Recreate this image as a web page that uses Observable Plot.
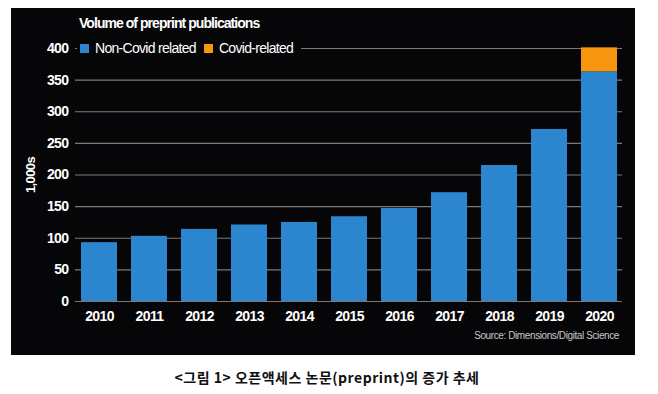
<!DOCTYPE html>
<html><head><meta charset="utf-8">
<script src="https://cdn.jsdelivr.net/npm/d3@7"></script>
<script src="https://cdn.jsdelivr.net/npm/@observablehq/plot@0.6"></script>
<style>
  html,body{margin:0;padding:0;background:#fff;}
  #page{position:relative;width:658px;height:394px;background:#fff;overflow:hidden;}
  #box{position:absolute;left:11px;top:8px;width:624px;height:347px;background:#060608;}
  #box svg{position:absolute;left:0;top:0;}
  #box svg text{letter-spacing:-0.6px;}
  .narrow{font-family:"Liberation Sans",sans-serif;}
  #title{position:absolute;left:68px;top:7px;color:#fff;font-weight:bold;font-size:14px;letter-spacing:-0.95px;}
  #legend{position:absolute;left:66px;top:32px;height:16px;padding:0 6px 0 3px;background:#060608;color:#fff;font-size:14px;letter-spacing:-0.7px;display:flex;align-items:center;gap:6px;}
  .sw{display:inline-block;width:9px;height:9px;}
  #source{position:absolute;right:16px;top:322px;color:#c8c8c8;font-size:10px;letter-spacing:-0.4px;}
  #caption{position:absolute;left:0;width:654px;top:367px;text-align:center;font-family:"Noto Sans CJK KR",sans-serif;font-weight:bold;font-size:14px;letter-spacing:0.5px;color:#111;}
</style></head>
<body>
<div id="page">
  <div id="box"></div>
  <div id="caption"></div>
</div>
<script>
const years = ["2010","2011","2012","2013","2014","2015","2016","2017","2018","2019","2020"];
const nonCovid = [93, 103, 114, 121, 125, 134, 147, 172, 215, 272, 363];
const covid = [0, 0, 0, 0, 0, 0, 0, 0, 0, 0, 38];
const yTicks = [0, 50, 100, 150, 200, 250, 300, 350, 400];
const seriesNames = ["Non-Covid related", "Covid-related"];
const seriesColors = ["#2b86cf", "#f7960e"];
const titleText = "Volume of preprint publications";
const yLabel = "1,000s";
const sourceText = "Source: Dimensions/Digital Science";
const captionText = "<그림 1> 오픈액세스 논문(preprint)의 증가 추세";

const rows = [];
years.forEach((y, i) => {
  rows.push({year: y, series: seriesNames[0], value: nonCovid[i]});
  rows.push({year: y, series: seriesNames[1], value: covid[i]});
});

const W = 624, H = 347;
const chart = Plot.plot({
  width: W, height: H,
  marginLeft: 64, marginRight: 13, marginTop: 40, marginBottom: 54,
  style: {background: "transparent", color: "#fff", fontFamily: "'Liberation Sans',sans-serif"},
  x: {domain: years, paddingInner: 0.28, paddingOuter: 0.09, label: null},
  y: {domain: [0, 400], label: null},
  color: {domain: seriesNames, range: seriesColors},
  marks: [
    Plot.ruleY(yTicks, {stroke: "#7a7a7a", strokeWidth: 1.2}),
    Plot.barY(rows, {x: "year", y: "value", fill: "series", order: seriesNames}),
    Plot.axisY(yTicks, {tickSize: 0, tickPadding: 7, fontSize: 14, fontWeight: "bold", fill: "#fff", label: null}),
    Plot.axisX({tickSize: 0, tickPadding: 10, fontSize: 14, fontWeight: "bold", fill: "#fff", label: null}),
    Plot.text([yLabel], {frameAnchor: "left", dx: -50, rotate: -90, fontSize: 13, fontWeight: "bold", fill: "#fff", textAnchor: "middle", lineAnchor: "top"})
  ]
});
const box = document.getElementById("box");
box.appendChild(chart);

const t = document.createElement("div");
t.id = "title"; t.className = "narrow"; t.textContent = titleText; box.appendChild(t);

const lg = document.createElement("div");
lg.id = "legend"; lg.className = "narrow";
seriesNames.forEach((n, i) => {
  const s = document.createElement("span"); s.className = "sw"; s.style.background = seriesColors[i];
  const l = document.createElement("span"); l.textContent = n; l.style.marginRight = "2px";
  lg.appendChild(s); lg.appendChild(l);
});
box.appendChild(lg);

const src = document.createElement("div");
src.id = "source"; src.className = "narrow"; src.textContent = sourceText; box.appendChild(src);

document.getElementById("caption").textContent = captionText;
</script>
</body></html>
